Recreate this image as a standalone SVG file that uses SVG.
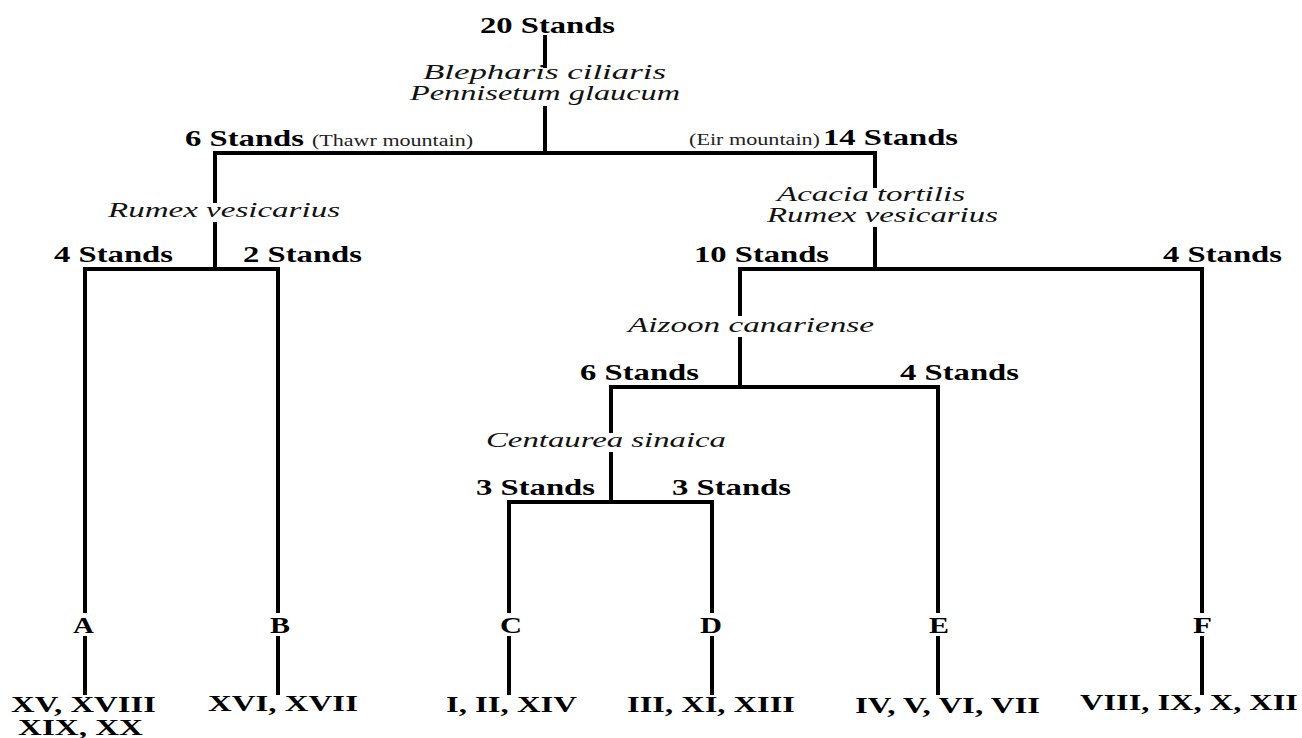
<svg xmlns="http://www.w3.org/2000/svg" width="1302" height="738" viewBox="0 0 1302 738">
<style>
.b{font-family:"Liberation Serif","Times New Roman",serif;font-weight:bold;font-size:23px;fill:#000}
.i{font-family:"Liberation Serif","Times New Roman",serif;font-style:italic;font-size:22px;fill:#111}
.i2{font-family:"Liberation Serif","Times New Roman",serif;font-style:italic;font-size:20px;fill:#111}
.s{font-family:"Liberation Serif","Times New Roman",serif;font-size:16px;fill:#222}
.c line{stroke:#000;stroke-width:4;stroke-linecap:square}
</style>
<rect width="1302" height="738" fill="#fff"/>
<g id="connectors" class="c">
<line x1="545" y1="37" x2="545" y2="66"/>
<line x1="545" y1="108" x2="545" y2="153"/>
<line x1="215" y1="153" x2="875" y2="153"/>
<line x1="215" y1="153" x2="215" y2="201"/>
<line x1="215" y1="224" x2="215" y2="269"/>
<line x1="85" y1="269" x2="278" y2="269"/>
<line x1="85" y1="269" x2="85" y2="611"/>
<line x1="85" y1="638" x2="85" y2="693"/>
<line x1="278" y1="269" x2="278" y2="611"/>
<line x1="278" y1="638" x2="278" y2="693"/>
<line x1="875" y1="153" x2="875" y2="186"/>
<line x1="875" y1="229" x2="875" y2="269"/>
<line x1="740" y1="269" x2="1202" y2="269"/>
<line x1="1202" y1="269" x2="1202" y2="611"/>
<line x1="1202" y1="638" x2="1202" y2="693"/>
<line x1="740" y1="269" x2="740" y2="314"/>
<line x1="740" y1="339" x2="740" y2="387"/>
<line x1="611" y1="387" x2="938" y2="387"/>
<line x1="938" y1="387" x2="938" y2="611"/>
<line x1="938" y1="638" x2="938" y2="693"/>
<line x1="611" y1="387" x2="611" y2="431"/>
<line x1="611" y1="454" x2="611" y2="502"/>
<line x1="509" y1="502" x2="712" y2="502"/>
<line x1="509" y1="502" x2="509" y2="611"/>
<line x1="509" y1="638" x2="509" y2="693"/>
<line x1="712" y1="502" x2="712" y2="611"/>
<line x1="712" y1="638" x2="712" y2="693"/>
</g>
<g id="root"><text class="b" x="480" y="33" textLength="135" lengthAdjust="spacingAndGlyphs">20 Stands</text></g>
<g id="split1"><text class="i2" x="423" y="79" textLength="243" lengthAdjust="spacingAndGlyphs">Blepharis ciliaris</text>
<text class="i2" x="410" y="100" textLength="270" lengthAdjust="spacingAndGlyphs">Pennisetum glaucum</text></g>
<g id="n6"><text class="b" x="185" y="146" textLength="119" lengthAdjust="spacingAndGlyphs">6 Stands</text>
<text class="s" x="312" y="146" textLength="161" lengthAdjust="spacingAndGlyphs">(Thawr mountain)</text></g>
<g id="n14"><text class="s" x="689" y="145" textLength="131" lengthAdjust="spacingAndGlyphs">(Eir mountain)</text>
<text class="b" x="823" y="145" textLength="135" lengthAdjust="spacingAndGlyphs">14 Stands</text></g>
<g id="split2"><text class="i" x="108" y="217" textLength="232" lengthAdjust="spacingAndGlyphs">Rumex vesicarius</text></g>
<g id="split3"><text class="i2" x="777" y="201" textLength="188" lengthAdjust="spacingAndGlyphs">Acacia tortilis</text>
<text class="i2" x="767" y="222" textLength="231" lengthAdjust="spacingAndGlyphs">Rumex vesicarius</text></g>
<g id="n4a"><text class="b" x="54" y="262" textLength="119" lengthAdjust="spacingAndGlyphs">4 Stands</text></g>
<g id="n2"><text class="b" x="243" y="262" textLength="119" lengthAdjust="spacingAndGlyphs">2 Stands</text></g>
<g id="n10"><text class="b" x="694" y="262" textLength="135" lengthAdjust="spacingAndGlyphs">10 Stands</text></g>
<g id="n4b"><text class="b" x="1163" y="262" textLength="119" lengthAdjust="spacingAndGlyphs">4 Stands</text></g>
<g id="split4"><text class="i" x="628" y="332" textLength="246" lengthAdjust="spacingAndGlyphs">Aizoon canariense</text></g>
<g id="n6b"><text class="b" x="580" y="380" textLength="119" lengthAdjust="spacingAndGlyphs">6 Stands</text></g>
<g id="n4c"><text class="b" x="900" y="380" textLength="119" lengthAdjust="spacingAndGlyphs">4 Stands</text></g>
<g id="split5"><text class="i" x="486" y="447" textLength="240" lengthAdjust="spacingAndGlyphs">Centaurea sinaica</text></g>
<g id="n3a"><text class="b" x="476" y="495" textLength="119" lengthAdjust="spacingAndGlyphs">3 Stands</text></g>
<g id="n3b"><text class="b" x="672" y="495" textLength="119" lengthAdjust="spacingAndGlyphs">3 Stands</text></g>
<g id="A"><text class="b" x="73" y="633" textLength="21" lengthAdjust="spacingAndGlyphs">A</text>
<text class="b" x="11" y="712" textLength="145" lengthAdjust="spacingAndGlyphs">XV, XVIII</text>
<text class="b" x="18" y="735" textLength="125" lengthAdjust="spacingAndGlyphs">XIX, XX</text></g>
<g id="B"><text class="b" x="270" y="633" textLength="20" lengthAdjust="spacingAndGlyphs">B</text>
<text class="b" x="208" y="711" textLength="150" lengthAdjust="spacingAndGlyphs">XVI, XVII</text></g>
<g id="C"><text class="b" x="500" y="633" textLength="22" lengthAdjust="spacingAndGlyphs">C</text>
<text class="b" x="446" y="712" textLength="131" lengthAdjust="spacingAndGlyphs">I, II, XIV</text></g>
<g id="D"><text class="b" x="700" y="633" textLength="22" lengthAdjust="spacingAndGlyphs">D</text>
<text class="b" x="627" y="712" textLength="168" lengthAdjust="spacingAndGlyphs">III, XI, XIII</text></g>
<g id="E"><text class="b" x="929" y="633" textLength="20" lengthAdjust="spacingAndGlyphs">E</text>
<text class="b" x="855" y="713" textLength="185" lengthAdjust="spacingAndGlyphs">IV, V, VI, VII</text></g>
<g id="F"><text class="b" x="1193" y="633" textLength="19" lengthAdjust="spacingAndGlyphs">F</text>
<text class="b" x="1080" y="710" textLength="218" lengthAdjust="spacingAndGlyphs">VIII, IX, X, XII</text></g>
</svg>
